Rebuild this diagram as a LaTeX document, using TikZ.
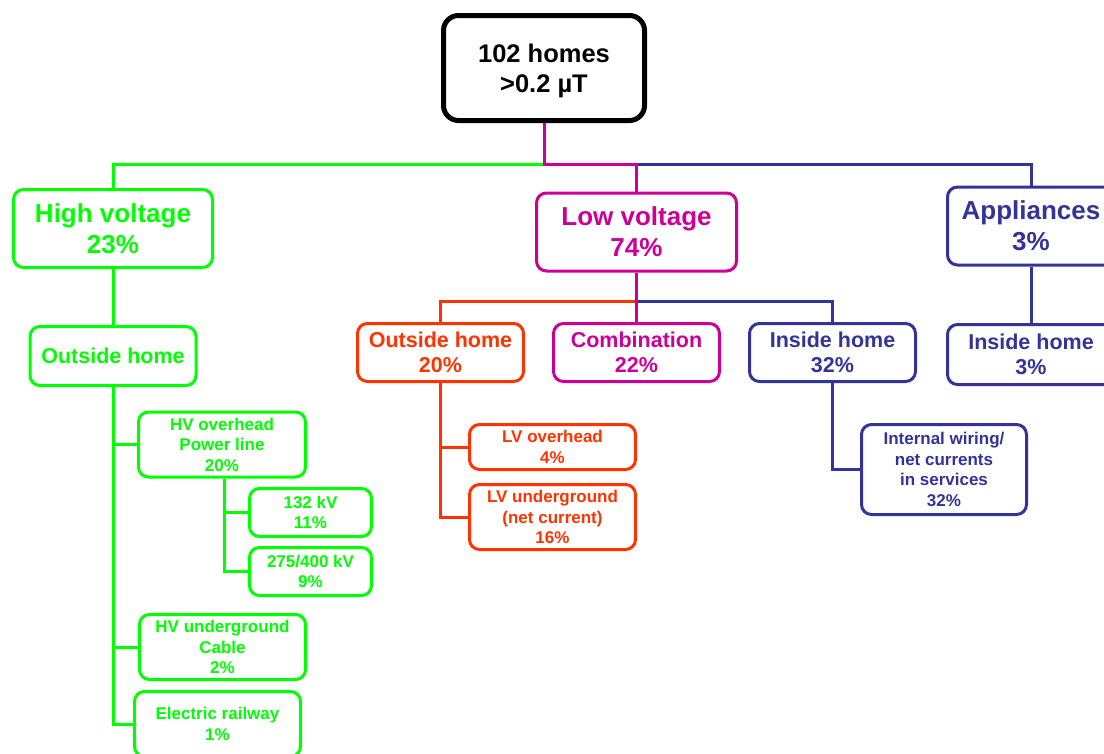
\documentclass[tikz,border=0pt]{standalone}
\usepackage{fontspec}
\setmainfont{Liberation Sans}
\definecolor{cgrn}{RGB}{0,255,0}
\definecolor{cmag}{RGB}{204,0,153}
\definecolor{corg}{RGB}{255,51,0}
\definecolor{cblu}{RGB}{51,51,153}
\tikzset{
  box/.style={draw, line width=3pt, rounded corners=10pt, inner sep=0pt, align=center, font=\bfseries, fill=white},
  topbox/.style={draw=black, line width=5pt, rounded corners=15pt, inner sep=0pt,
     minimum width=201pt, minimum height=105pt},
  toptext/.style={inner sep=0pt, align=center, text=black, font=\fontsize{25.5}{30}\selectfont\bfseries},
  lone/.style={box, font=\fontsize{26}{31}\selectfont\bfseries, minimum height=78pt},
  ltwo/.style={box, font=\fontsize{21.5}{25}\selectfont\bfseries, minimum width=166pt},
  lthree/.style={box, font=\fontsize{17}{20.5}\selectfont\bfseries, minimum width=166pt},
  G/.style={draw=cgrn, text=cgrn},
  M/.style={draw=cmag, text=cmag},
  O/.style={draw=corg, text=corg},
  B/.style={draw=cblu, text=cblu},
  con/.style={line width=3pt},
}
\begin{document}
\begin{tikzpicture}[x=1pt, y=-1pt]
\useasboundingbox (0,0) rectangle (1104,753);
\clip (0,0) rectangle (1104,753);
% nodes
\node[topbox] (top) at (544,68) {};
\node[toptext] (toplabel) at ([yshift=-3pt]top.center) {102 homes\\>0.2 µT};
\node[lone,G,minimum width=199pt] (hv) at (113,228.5) {High voltage\\23\%};
\node[lone,M,minimum width=200pt] (lv) at (636.5,232) {Low voltage\\74\%};
\node[lone,B,minimum width=167pt] (app) at (1031,226) {Appliances\\3\%};
\node[ltwo,G,minimum height=59pt] (oh) at (113,356) {Outside home};
\node[ltwo,O,minimum height=58pt] (oh2) at (440.5,352.5) {Outside home\\20\%};
\node[ltwo,M,minimum height=58pt] (comb) at (636.5,352.5) {Combination\\22\%};
\node[ltwo,B,minimum height=58pt] (ih) at (832.5,352.5) {Inside home\\32\%};
\node[ltwo,B,minimum height=60pt, minimum width=167pt] (aih) at (1031,354.5) {Inside home\\3\%};
\node[lthree,G,minimum height=65pt, minimum width=167pt] (hvo) at (222,444.5) {HV overhead\\Power line\\20\%};
\node[lthree,G,minimum height=48pt, minimum width=122pt] (k132) at (310.5,512.5) {132 kV\\11\%};
\node[lthree,G,minimum height=48pt, minimum width=122pt] (k275) at (310.5,571.5) {275/400 kV\\9\%};
\node[lthree,G,minimum height=65pt] (hvu) at (222.5,647) {HV underground\\Cable\\2\%};
\node[lthree,G,minimum height=65pt] (er) at (217.5,724) {Electric railway\\1\%};
\node[lthree,O,minimum height=45pt] (lvo) at (552.5,447) {LV overhead\\4\%};
\node[lthree,O,minimum height=65pt] (lvu) at (552.5,517) {LV underground\\(net current)\\16\%};
\node[lthree,B,minimum height=90pt, minimum width=165pt] (iw) at (944,469.5) {Internal wiring/\\net currents\\in services\\32\%};
% connectors
\coordinate (j1) at (544,164);
\coordinate (j2) at (636.5,301);
\draw[con,cgrn] (j1) -| (hv.north);
\draw[con,cblu] (lv.north |- j1) -| (app.north);
\draw[con,cmag] (top.south) -- (j1) -| (lv.north);
\draw[con,cgrn] (hv.south) -- (oh.north);
\draw[con,cgrn] (oh.south) |- (hvo.west);
\draw[con,cgrn] (oh.south) |- (hvu.west);
\draw[con,cgrn] (oh.south) |- (er.west);
\draw[con,cgrn] ([xshift=2pt]hvo.south) |- (k132.west);
\draw[con,cgrn] ([xshift=2pt]hvo.south) |- (k275.west);
\draw[con,corg] (j2) -| (oh2.north);
\draw[con,cblu] (j2) -| (ih.north);
\draw[con,cmag] (lv.south) -- (comb.north);
\draw[con,corg] (oh2.south) |- (lvo.west);
\draw[con,corg] (oh2.south) |- (lvu.west);
\draw[con,cblu] (ih.south) |- (iw.west);
\draw[con,cblu] (app.south) -- (aih.north);
\end{tikzpicture}
\end{document}
